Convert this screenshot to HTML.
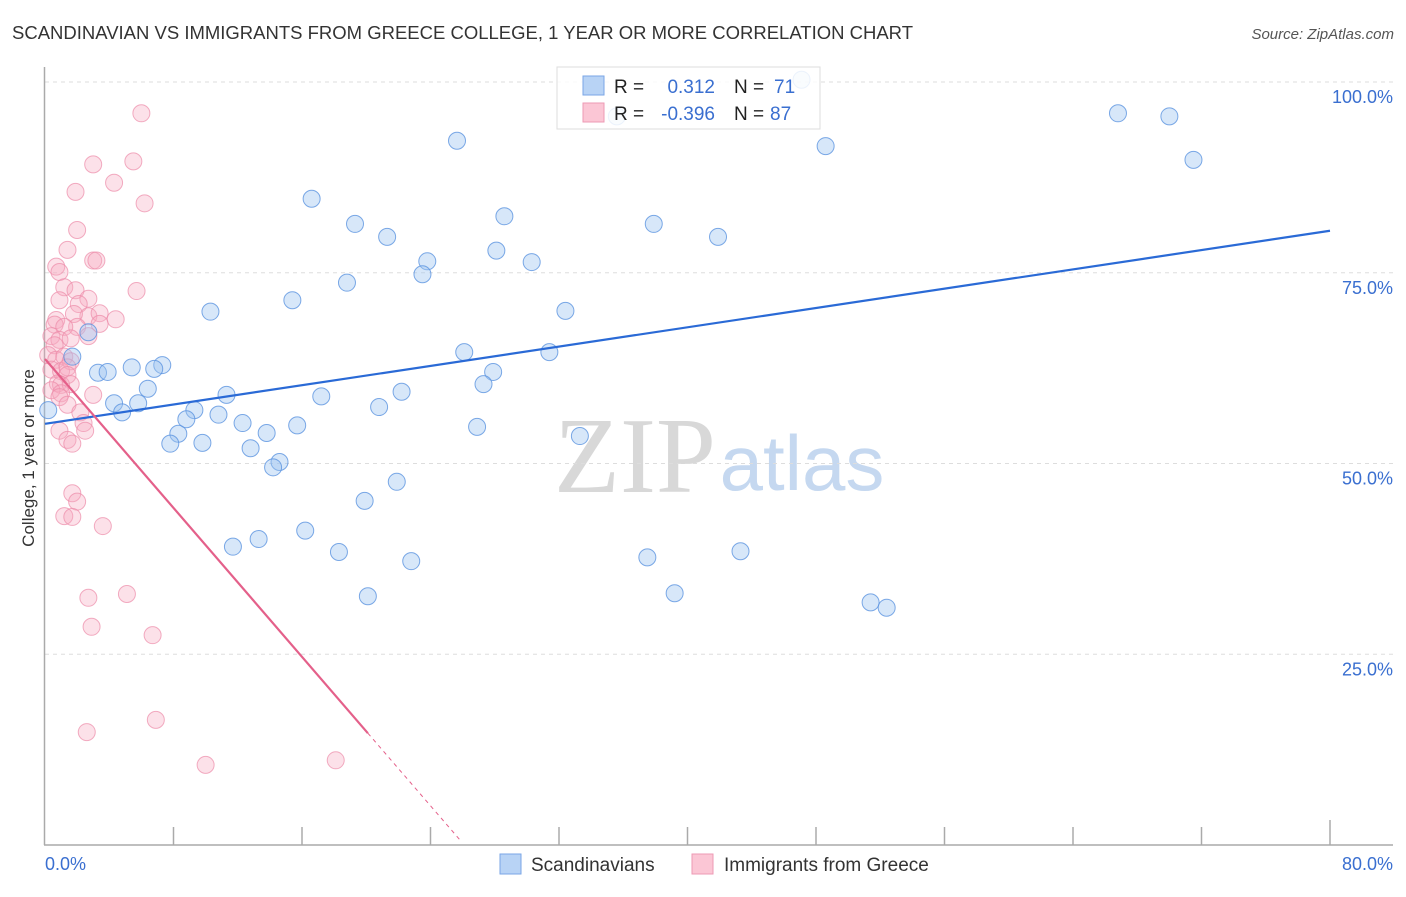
<!DOCTYPE html>
<html><head><meta charset="utf-8"><style>
html,body{margin:0;padding:0;background:#fff;}
body{width:1406px;height:892px;overflow:hidden;font-family:"Liberation Sans",sans-serif;}
</style></head><body>
<svg id="chart" width="1406" height="892" xmlns="http://www.w3.org/2000/svg" font-family="Liberation Sans, sans-serif">
<text x="12" y="39" font-size="18" fill="#333" textLength="901" lengthAdjust="spacingAndGlyphs">SCANDINAVIAN VS IMMIGRANTS FROM GREECE COLLEGE, 1 YEAR OR MORE CORRELATION CHART</text>
<text x="1394" y="39" font-size="15" fill="#555" text-anchor="end" font-style="italic">Source: ZipAtlas.com</text>
<text transform="translate(34,458) rotate(-90)" font-size="17" fill="#333" text-anchor="middle">College, 1 year or more</text>
<g>
<text x="635" y="492" font-size="108" fill="#d8d8d8" text-anchor="middle" font-family="Liberation Serif, serif">ZIP</text>
<text x="802" y="490" font-size="78" fill="#c5d8f0" text-anchor="middle">atlas</text>
</g>
<g id="grid"></g>
<g id="axes"></g>
<g id="pts"></g>
<g id="trends"></g>
<g>
<rect x="557" y="67" width="263" height="62" fill="#fff" fill-opacity="0.85" stroke="#ddd"/>
<rect x="583" y="76" width="21" height="19" fill="#b8d3f5" stroke="#7aa6e6"/>
<rect x="583" y="103" width="21" height="19" fill="#fbc6d5" stroke="#ee9ab4"/>
<text x="614" y="93" font-size="19" fill="#222">R =</text>
<text x="715" y="93" font-size="19" fill="#3a6fd0" text-anchor="end">0.312</text>
<text x="734" y="93" font-size="19" fill="#222">N =</text>
<text x="774" y="93" font-size="19" fill="#3a6fd0">71</text>
<text x="614" y="120" font-size="19" fill="#222">R =</text>
<text x="715" y="120" font-size="19" fill="#3a6fd0" text-anchor="end">-0.396</text>
<text x="734" y="120" font-size="19" fill="#222">N =</text>
<text x="770" y="120" font-size="19" fill="#3a6fd0">87</text>
</g>
<g>
<rect x="500" y="854" width="21" height="20" fill="#b8d3f5" stroke="#7aa6e6"/>
<text x="531" y="871" font-size="19" fill="#333">Scandinavians</text>
<rect x="692" y="854" width="21" height="20" fill="#fbc6d5" stroke="#ee9ab4"/>
<text x="724" y="871" font-size="19" fill="#333">Immigrants from Greece</text>
</g>
</svg>
<script>
const blueX=[47.1,25.65,66.8,70.0,71.5,48.6,16.6,19.3,21.3,28.6,37.9,41.9,28.1,30.3,23.8,23.5,18.8,15.4,10.3,32.4,2.7,1.7,26.1,31.4,5.4,7.3,6.8,3.3,3.9,27.9,27.3,6.4,11.3,17.2,22.2,4.3,5.8,4.8,20.8,9.3,8.8,10.8,12.3,15.7,8.3,13.8,26.9,33.3,7.8,9.8,12.8,14.6,14.2,21.9,19.9,16.2,11.7,13.3,18.3,22.8,37.5,43.3,20.1,39.2,51.4,52.4,0.2,35.6];
const blueY=[100.3,92.3,95.9,95.5,89.8,91.6,84.7,81.4,79.7,82.4,81.4,79.7,77.9,76.4,76.5,74.8,73.7,71.4,69.9,70.0,67.2,64.0,64.6,64.6,62.6,62.9,62.4,61.9,62.0,62.0,60.4,59.8,59.0,58.8,59.4,57.9,57.9,56.7,57.4,57.0,55.8,56.4,55.3,55.0,53.9,54.0,54.8,53.6,52.6,52.7,52.0,50.2,49.5,47.6,45.1,41.2,39.1,40.1,38.4,37.2,37.7,38.5,32.6,33.0,31.8,31.1,57.0,95.5];
const pinkX=[6.0,5.5,3.0,4.3,1.9,6.2,2.0,1.4,0.7,3.0,3.2,0.9,5.7,1.2,1.9,2.7,0.9,2.1,4.4,2.7,3.4,1.8,0.7,0.6,3.4,2.0,1.2,2.7,0.4,0.9,1.6,0.6,0.2,0.7,1.2,1.6,0.4,1.0,1.4,1.4,0.8,1.0,1.6,0.4,1.0,0.9,3.0,1.4,2.2,2.4,2.5,0.9,1.4,1.7,1.7,2.0,1.2,1.7,3.6,2.7,5.1,2.9,6.7,6.9,2.6,10.0,18.1];
const pinkY=[95.9,89.6,89.2,86.8,85.6,84.1,80.6,78.0,75.8,76.6,76.6,75.1,72.6,73.1,72.7,71.6,71.4,70.9,68.9,69.3,69.7,69.6,68.8,68.2,68.3,67.9,67.9,66.7,66.7,66.2,66.4,65.5,64.2,63.6,64.0,63.4,62.3,62.1,62.6,61.6,60.5,60.3,60.4,59.6,59.2,58.7,59.0,57.7,56.7,55.3,54.3,54.3,53.1,52.6,46.1,45.0,43.1,43.0,41.8,32.4,32.9,28.6,27.5,16.4,14.8,10.5,11.1];
const yTicks=[25,50,75,100];
const yTickLabels=["25.0%","50.0%","75.0%","100.0%"];
const xTicks=[0,8,16,24,32,40,48,56,64,72,80];
const blueTrend=[55.2,0.3163];   // intercept, slope
const pinkTrend=[63.7,-2.44];
const pinkSolidEnd=20.1, pinkDashEnd=25.8;

const NS="http://www.w3.org/2000/svg";
const sx=v=>45+v/80*1285;
const sy=v=>845-v/100*763;
function mk(tag,attrs,parent){const e=document.createElementNS(NS,tag);for(const k in attrs)e.setAttribute(k,attrs[k]);parent.appendChild(e);return e;}
const grid=document.getElementById('grid'),axes=document.getElementById('axes'),pts=document.getElementById('pts'),tr=document.getElementById('trends');
yTicks.forEach((t,i)=>{
  const l=mk('line',{x1:45,x2:1393,y1:sy(t),y2:sy(t),stroke:'#ddd','stroke-dasharray':'4,4'},grid);
  
  
  const tx=mk('text',{x:1393,y:sy(t)+21,'font-size':18,fill:'#3a6fd0','text-anchor':'end'},grid);
  tx.textContent=yTickLabels[i];
  
  
});
const ya=mk('line',{x1:44.5,x2:44.5,y1:67,y2:845,stroke:'#aaa','stroke-width':1.5},axes);


const xa=mk('line',{x1:44,x2:1393,y1:845,y2:845,stroke:'#aaa','stroke-width':1.5},axes);


xTicks.forEach((t,i)=>{
  if(i===0)return;
  const tk=mk('line',{x1:sx(t),x2:sx(t),y1:i===xTicks.length-1?820:827,y2:845,stroke:'#aaa','stroke-width':1.5},axes);
  
  
});
const xl0=mk('text',{x:45,y:870,'font-size':18,fill:'#3a6fd0'},axes);xl0.textContent='0.0%';


const xl1=mk('text',{x:1393,y:870,'font-size':18,fill:'#3a6fd0','text-anchor':'end'},axes);xl1.textContent='80.0%';


pinkX.forEach((x,i)=>{
  const c=mk('circle',{cx:sx(x),cy:sy(pinkY[i]),r:8.5,fill:'#f7a8c0','fill-opacity':0.35,stroke:'#ec8aa8','stroke-opacity':0.7,'stroke-width':1},pts);
  
  
});
blueX.forEach((x,i)=>{
  const c=mk('circle',{cx:sx(x),cy:sy(blueY[i]),r:8.5,fill:'#9cc2f0','fill-opacity':0.4,stroke:'#5b93e0','stroke-opacity':0.8,'stroke-width':1},pts);
  
  
});
const bt=mk('line',{x1:sx(0),y1:sy(blueTrend[0]),x2:sx(80),y2:sy(blueTrend[0]+blueTrend[1]*80),stroke:'#2a6ad6','stroke-width':2.2},tr);


const pt=mk('line',{x1:sx(0),y1:sy(pinkTrend[0]),x2:sx(pinkSolidEnd),y2:sy(pinkTrend[0]+pinkTrend[1]*pinkSolidEnd),stroke:'#e4608a','stroke-width':2.2},tr);


const pd=mk('line',{x1:sx(pinkSolidEnd),y1:sy(pinkTrend[0]+pinkTrend[1]*pinkSolidEnd),x2:sx(pinkDashEnd),y2:sy(pinkTrend[0]+pinkTrend[1]*pinkDashEnd),stroke:'#e4608a','stroke-width':1,'stroke-dasharray':'4,4'},tr);


</script>
</body></html>
